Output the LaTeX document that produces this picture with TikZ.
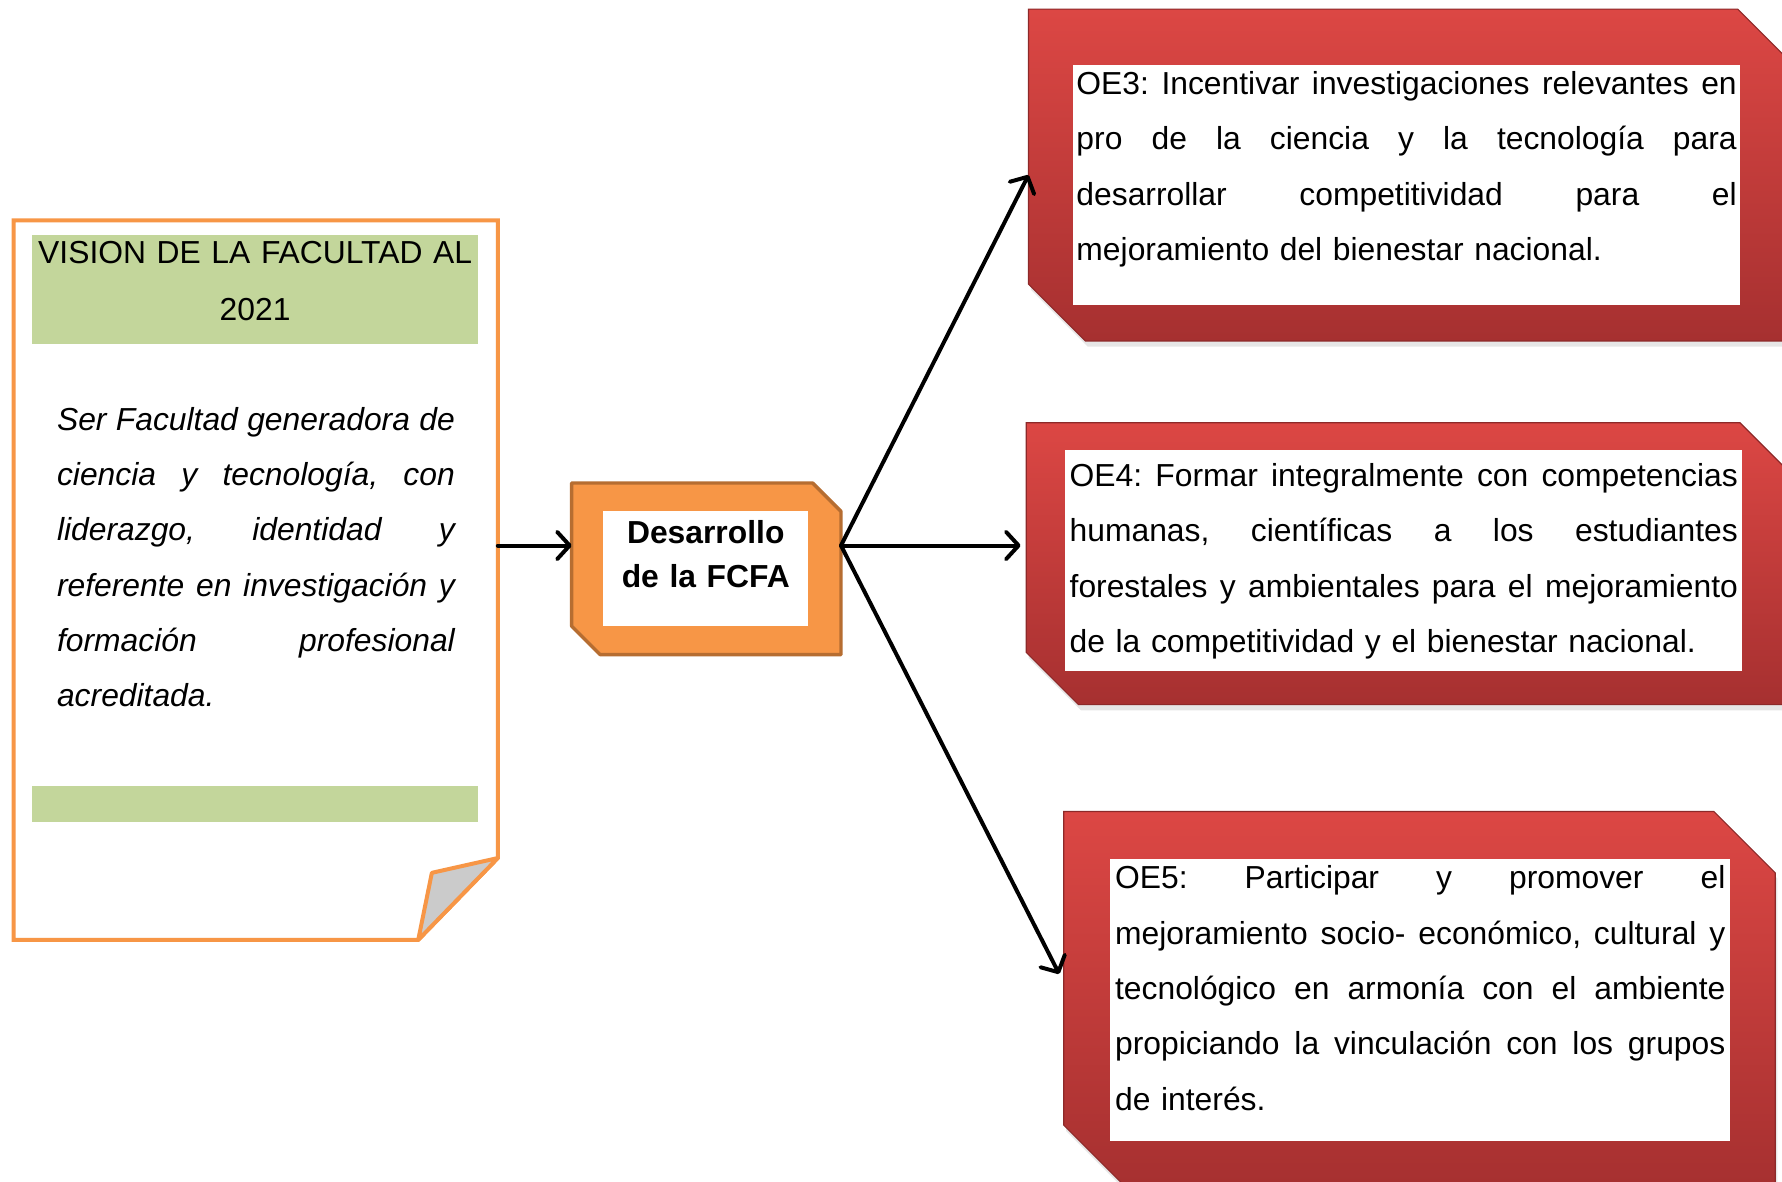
\documentclass[tikz,border=0pt]{standalone}
\usepackage{fontspec}
\setmainfont{Liberation Sans}
\usetikzlibrary{arrows.meta,shadows}

\definecolor{notaorange}{HTML}{F79646}
\definecolor{cajaborde}{HTML}{B66D31}
\definecolor{bandagreen}{HTML}{C3D69B}
\definecolor{plieguegray}{HTML}{CBCBCB}
\definecolor{rojoarriba}{HTML}{DC4744}
\definecolor{rojoabajo}{HTML}{A63030}

% one justified line of a paragraph
\newlength{\jancho}
\newcommand{\jline}[1]{\leavevmode\hbox to \jancho{\spaceskip=0.278em plus 1fil\relax #1}\\}
\hbadness=10000

\tikzset{
  flecha/.style={line width=3.5pt, line cap=round, -{Straight Barb[round, length=11pt, width=24pt]}},
  caja/.style={rectangle, inner sep=0pt, outer sep=0pt},
  objetivo/.style={top color=rojoarriba, bottom color=rojoabajo, draw=rojoabajo!85!black, line width=1pt,
    drop shadow={shadow xshift=2pt, shadow yshift=-5pt, opacity=0.2}},
  texto/.style={inner sep=0pt, anchor=base west, align=left,
    font=\frenchspacing\fontsize{28}{48.7}\selectfont},
  ancho/.style={text width=#1, execute at begin node={\setlength{\jancho}{#1}}},
}

\begin{document}
\begin{tikzpicture}[x=1pt,y=-1pt]
  \useasboundingbox (0,0) rectangle (1568,1040);

  % Vision (sheet with folded corner)
  \draw[notaorange, line width=3.5pt, fill=white] (12,194) -- (438,194) -- (438,755) -- (368,827) -- (12,827) -- cycle;
  \fill[bandagreen] (28,207) rectangle (421,303);
  \fill[bandagreen] (28,692) rectangle (421,723);
  \draw[notaorange, line width=3.5pt, fill=plieguegray, line join=round] (438,755) -- (380,768) -- (368,827) -- cycle;
  \node[texto, anchor=base, ancho=393pt, align=center, font=\frenchspacing\fontsize{28}{50}\selectfont] (titulo) at (224.5,232)
    {VISION DE LA FACULTAD AL\\2021};
  \node[texto, ancho=350pt, font=\frenchspacing\itshape\fontsize{28}{48.5}\selectfont] (vision) at (50,379)
    {\jline{Ser Facultad generadora de}
     \jline{ciencia y tecnología, con}
     \jline{liderazgo, identidad y}
     \jline{referente en investigación y}
     \jline{formación profesional}
     acreditada.};
  \coordinate (visE) at (438,480);

  % Desarrollo de la FCFA
  \node[caja, minimum width=237pt, minimum height=151pt] (ctr) at (621.5,500.5) {};
  \draw[fill=notaorange, draw=cajaborde, line width=3pt, line join=round]
    ([xshift=-25pt]ctr.north east) -- ([yshift=-25pt]ctr.north east) -- (ctr.south east)
    -- ([xshift=25pt]ctr.south west) -- ([yshift=25pt]ctr.south west) -- (ctr.north west) -- cycle;
  \fill[white] (531,450) rectangle (711,551);
  \node[texto, anchor=base, ancho=180pt, align=center, font=\bfseries\fontsize{28}{39}\selectfont] (ctrtxt) at (621,478)
    {Desarrollo\\de la FCFA};

  % Objetivos
  \node[caja, minimum width=670pt, minimum height=292pt] (oe3) at (1240,154) {};
  \path[objetivo] ([xshift=-46pt]oe3.north east) -- ([yshift=-46pt]oe3.north east) -- (oe3.south east)
    -- ([xshift=50pt]oe3.south west) -- ([yshift=50pt]oe3.south west) -- (oe3.north west) -- cycle;
  \fill[white] (944,57) rectangle (1531,268);
  \node[texto, ancho=581pt] (oe3txt) at (947,83)
    {\jline{OE3: Incentivar investigaciones relevantes en}
     \jline{pro de la ciencia y la tecnología para}
     \jline{desarrollar competitividad para el}
     mejoramiento del bienestar nacional.};

  \node[caja, minimum width=672pt, minimum height=248pt] (oe4) at (1239,496) {};
  \path[objetivo] ([xshift=-44pt]oe4.north east) -- ([yshift=-44pt]oe4.north east) -- (oe4.south east)
    -- ([xshift=46pt]oe4.south west) -- ([yshift=46pt]oe4.south west) -- (oe4.north west) -- cycle;
  \fill[white] (937,396) rectangle (1533,590);
  \node[texto, ancho=588pt] (oe4txt) at (941,428)
    {\jline{OE4: Formar integralmente con competencias}
     \jline{humanas, científicas a los estudiantes}
     \jline{forestales y ambientales para el mejoramiento}
     de la competitividad y el bienestar nacional.};

  \node[caja, minimum width=626pt, minimum height=330pt] (oe5) at (1249,879) {};
  \path[objetivo] ([xshift=-54pt]oe5.north east) -- ([yshift=-54pt]oe5.north east) -- (oe5.south east)
    -- ([xshift=54pt]oe5.south west) -- ([yshift=54pt]oe5.south west) -- (oe5.north west) -- cycle;
  \fill[white] (977,756) rectangle (1522,1004);
  \node[texto, ancho=537pt] (oe5txt) at (981,782)
    {\jline{OE5: Participar y promover el}
     \jline{mejoramiento socio- económico, cultural y}
     \jline{tecnológico en armonía con el ambiente}
     \jline{propiciando la vinculación con los grupos}
     de interés.};

  % Arrows
  \draw[flecha] (visE) -- ([yshift=20.5pt]ctr.west);
  \draw[flecha] ([yshift=20.5pt]ctr.east) -- (oe3.west);
  \draw[flecha] ([yshift=20.5pt]ctr.east) -- ([xshift=-5pt,yshift=16pt]oe4.west);
  \draw[flecha] ([yshift=20.5pt]ctr.east) -- ([xshift=-4pt,yshift=22pt]oe5.west);
\end{tikzpicture}
\end{document}
